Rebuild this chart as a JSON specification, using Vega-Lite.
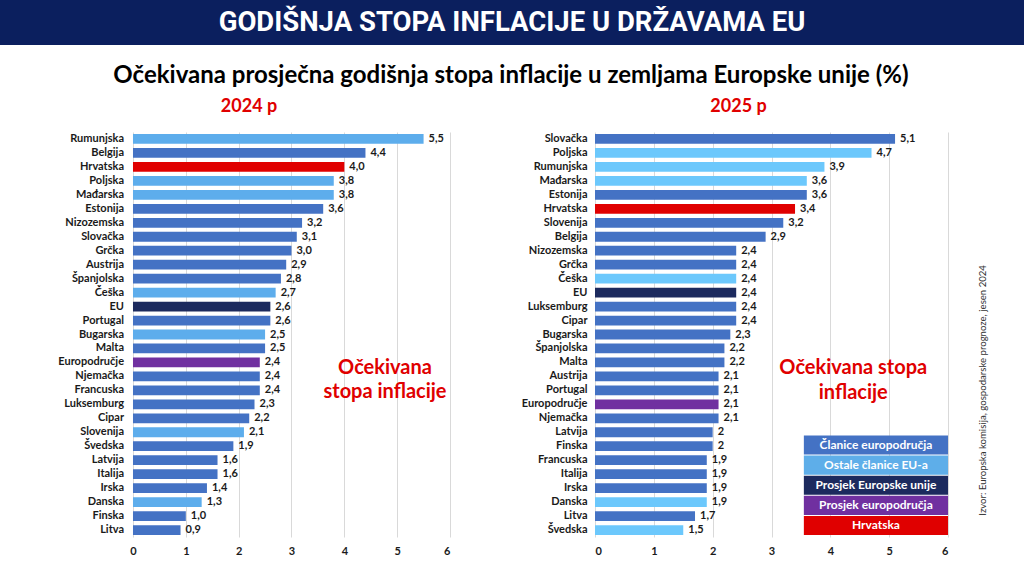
{
  "$schema": "https://vega.github.io/schema/vega-lite/v6.json",
  "padding": 0,
  "background": "white",
  "spacing": 19,
  "config": {"view": {"stroke": null}, "font": "Lato"},
  "datasets": {
    "d2024": [
      {"zemlja": "Rumunjska", "vrijednost": 5.5, "oznaka": "5,5", "grupa": "Ostale članice EU-a"},
      {"zemlja": "Belgija", "vrijednost": 4.4, "oznaka": "4,4", "grupa": "Članice europodručja"},
      {"zemlja": "Hrvatska", "vrijednost": 4.0, "oznaka": "4,0", "grupa": "Hrvatska"},
      {"zemlja": "Poljska", "vrijednost": 3.8, "oznaka": "3,8", "grupa": "Ostale članice EU-a"},
      {"zemlja": "Mađarska", "vrijednost": 3.8, "oznaka": "3,8", "grupa": "Ostale članice EU-a"},
      {"zemlja": "Estonija", "vrijednost": 3.6, "oznaka": "3,6", "grupa": "Članice europodručja"},
      {"zemlja": "Nizozemska", "vrijednost": 3.2, "oznaka": "3,2", "grupa": "Članice europodručja"},
      {"zemlja": "Slovačka", "vrijednost": 3.1, "oznaka": "3,1", "grupa": "Članice europodručja"},
      {"zemlja": "Grčka", "vrijednost": 3.0, "oznaka": "3,0", "grupa": "Članice europodručja"},
      {"zemlja": "Austrija", "vrijednost": 2.9, "oznaka": "2,9", "grupa": "Članice europodručja"},
      {"zemlja": "Španjolska", "vrijednost": 2.8, "oznaka": "2,8", "grupa": "Članice europodručja"},
      {"zemlja": "Češka", "vrijednost": 2.7, "oznaka": "2,7", "grupa": "Ostale članice EU-a"},
      {"zemlja": "EU", "vrijednost": 2.6, "oznaka": "2,6", "grupa": "Prosjek Europske unije"},
      {"zemlja": "Portugal", "vrijednost": 2.6, "oznaka": "2,6", "grupa": "Članice europodručja"},
      {"zemlja": "Bugarska", "vrijednost": 2.5, "oznaka": "2,5", "grupa": "Ostale članice EU-a"},
      {"zemlja": "Malta", "vrijednost": 2.5, "oznaka": "2,5", "grupa": "Članice europodručja"},
      {"zemlja": "Europodručje", "vrijednost": 2.4, "oznaka": "2,4", "grupa": "Prosjek europodručja"},
      {"zemlja": "Njemačka", "vrijednost": 2.4, "oznaka": "2,4", "grupa": "Članice europodručja"},
      {"zemlja": "Francuska", "vrijednost": 2.4, "oznaka": "2,4", "grupa": "Članice europodručja"},
      {"zemlja": "Luksemburg", "vrijednost": 2.3, "oznaka": "2,3", "grupa": "Članice europodručja"},
      {"zemlja": "Cipar", "vrijednost": 2.2, "oznaka": "2,2", "grupa": "Članice europodručja"},
      {"zemlja": "Slovenija", "vrijednost": 2.1, "oznaka": "2,1", "grupa": "Ostale članice EU-a"},
      {"zemlja": "Švedska", "vrijednost": 1.9, "oznaka": "1,9", "grupa": "Članice europodručja"},
      {"zemlja": "Latvija", "vrijednost": 1.6, "oznaka": "1,6", "grupa": "Članice europodručja"},
      {"zemlja": "Italija", "vrijednost": 1.6, "oznaka": "1,6", "grupa": "Članice europodručja"},
      {"zemlja": "Irska", "vrijednost": 1.4, "oznaka": "1,4", "grupa": "Članice europodručja"},
      {"zemlja": "Danska", "vrijednost": 1.3, "oznaka": "1,3", "grupa": "Ostale članice EU-a"},
      {"zemlja": "Finska", "vrijednost": 1.0, "oznaka": "1,0", "grupa": "Članice europodručja"},
      {"zemlja": "Litva", "vrijednost": 0.9, "oznaka": "0,9", "grupa": "Članice europodručja"}
    ],
    "d2025": [
      {"zemlja": "Slovačka", "vrijednost": 5.1, "oznaka": "5,1", "grupa": "Članice europodručja"},
      {"zemlja": "Poljska", "vrijednost": 4.7, "oznaka": "4,7", "grupa": "Ostale članice EU-a"},
      {"zemlja": "Rumunjska", "vrijednost": 3.9, "oznaka": "3,9", "grupa": "Ostale članice EU-a"},
      {"zemlja": "Mađarska", "vrijednost": 3.6, "oznaka": "3,6", "grupa": "Ostale članice EU-a"},
      {"zemlja": "Estonija", "vrijednost": 3.6, "oznaka": "3,6", "grupa": "Članice europodručja"},
      {"zemlja": "Hrvatska", "vrijednost": 3.4, "oznaka": "3,4", "grupa": "Hrvatska"},
      {"zemlja": "Slovenija", "vrijednost": 3.2, "oznaka": "3,2", "grupa": "Članice europodručja"},
      {"zemlja": "Belgija", "vrijednost": 2.9, "oznaka": "2,9", "grupa": "Članice europodručja"},
      {"zemlja": "Nizozemska", "vrijednost": 2.4, "oznaka": "2,4", "grupa": "Članice europodručja"},
      {"zemlja": "Grčka", "vrijednost": 2.4, "oznaka": "2,4", "grupa": "Članice europodručja"},
      {"zemlja": "Češka", "vrijednost": 2.4, "oznaka": "2,4", "grupa": "Ostale članice EU-a"},
      {"zemlja": "EU", "vrijednost": 2.4, "oznaka": "2,4", "grupa": "Prosjek Europske unije"},
      {"zemlja": "Luksemburg", "vrijednost": 2.4, "oznaka": "2,4", "grupa": "Članice europodručja"},
      {"zemlja": "Cipar", "vrijednost": 2.4, "oznaka": "2,4", "grupa": "Članice europodručja"},
      {"zemlja": "Bugarska", "vrijednost": 2.3, "oznaka": "2,3", "grupa": "Članice europodručja"},
      {"zemlja": "Španjolska", "vrijednost": 2.2, "oznaka": "2,2", "grupa": "Članice europodručja"},
      {"zemlja": "Malta", "vrijednost": 2.2, "oznaka": "2,2", "grupa": "Članice europodručja"},
      {"zemlja": "Austrija", "vrijednost": 2.1, "oznaka": "2,1", "grupa": "Članice europodručja"},
      {"zemlja": "Portugal", "vrijednost": 2.1, "oznaka": "2,1", "grupa": "Članice europodručja"},
      {"zemlja": "Europodručje", "vrijednost": 2.1, "oznaka": "2,1", "grupa": "Prosjek europodručja"},
      {"zemlja": "Njemačka", "vrijednost": 2.1, "oznaka": "2,1", "grupa": "Članice europodručja"},
      {"zemlja": "Latvija", "vrijednost": 2.0, "oznaka": "2", "grupa": "Članice europodručja"},
      {"zemlja": "Finska", "vrijednost": 2.0, "oznaka": "2", "grupa": "Članice europodručja"},
      {"zemlja": "Francuska", "vrijednost": 1.9, "oznaka": "1,9", "grupa": "Članice europodručja"},
      {"zemlja": "Italija", "vrijednost": 1.9, "oznaka": "1,9", "grupa": "Članice europodručja"},
      {"zemlja": "Irska", "vrijednost": 1.9, "oznaka": "1,9", "grupa": "Članice europodručja"},
      {"zemlja": "Danska", "vrijednost": 1.9, "oznaka": "1,9", "grupa": "Ostale članice EU-a"},
      {"zemlja": "Litva", "vrijednost": 1.7, "oznaka": "1,7", "grupa": "Članice europodručja"},
      {"zemlja": "Švedska", "vrijednost": 1.5, "oznaka": "1,5", "grupa": "Ostale članice EU-a"}
    ],
    "legenda": [
      {"grupa": "Članice europodručja"},
      {"grupa": "Ostale članice EU-a"},
      {"grupa": "Prosjek Europske unije"},
      {"grupa": "Prosjek europodručja"},
      {"grupa": "Hrvatska"}
    ]
  },
  "vconcat": [
    {
      "width": 1024,
      "height": 45,
      "data": {"values": [{"naslov": "GODIŠNJA STOPA INFLACIJE U DRŽAVAMA EU"}]},
      "layer": [
        {"mark": {"type": "rect", "color": "#0b1f5e"}, "encoding": {}},
        {"mark": {"type": "text", "color": "white", "font": "Roboto", "fontWeight": "bold", "fontSize": 27.5, "baseline": "middle"}, "encoding": {"text": {"field": "naslov"}}}
      ]
    },
    {
      "title": {"text": "Očekivana prosječna godišnja stopa inflacije u zemljama Europske unije (%)", "fontSize": 24, "fontWeight": "bold", "color": "#000000", "anchor": "middle", "offset": 10, "dx": 17, "font": "Lato"},
      "spacing": 45,
      "hconcat": [
        {
          "title": {"text": "2024 p", "color": "#e00000", "fontSize": 18, "fontWeight": "bold", "anchor": "middle", "frame": "group", "dx": 24, "offset": 16},
          "width": 450,
          "height": 405,
          "data": {"name": "d2024"},
          "encoding": {
            "y": {"field": "zemlja", "type": "nominal", "sort": null,
              "scale": {"paddingInner": 0.3, "paddingOuter": 0.15},
              "axis": null}
          },
          "layer": [
            {
              "mark": {"type": "bar"},
              "encoding": {
                "x": {"field": "vrijednost", "type": "quantitative", "scale": {"domain": [-2.517, 6], "nice": false, "zero": false},
                  "axis": {"title": null, "domain": false, "ticks": false, "values": [0, 1, 2, 3, 4, 5, 6], "labelOverlap": false, "labelFontWeight": "bold", "labelFontSize": 11, "labelColor": "#1a1a1a", "labelPadding": 8, "gridColor": "#d9d9d9", "format": "d"}},
                "color": {"field": "grupa", "type": "nominal", "legend": null,
                  "scale": {"domain": ["Članice europodručja", "Ostale članice EU-a", "Prosjek Europske unije", "Prosjek europodručja", "Hrvatska"], "range": ["#4472c4", "#5dadec", "#1c2a5e", "#7030a0", "#e00000"]}}
              }
            },
            {
              "mark": {"type": "text", "align": "left", "dx": 5, "fontWeight": "bold", "fontSize": 11, "color": "#1a1a1a"},
              "encoding": {
                "x": {"field": "vrijednost", "type": "quantitative"},
                "text": {"field": "oznaka"}
              }
            },
            {
              "mark": {"type": "text", "align": "right", "fontWeight": "bold", "fontSize": 11, "color": "#1a1a1a"},
              "encoding": {
                "x": {"datum": -0.17, "type": "quantitative"},
                "text": {"field": "zemlja"}
              }
            },
            {
              "data": {"values": [{}]},
              "mark": {"type": "text", "color": "#e00000", "fontSize": 20, "fontWeight": "bold", "lineHeight": 24, "dy": -8},
              "encoding": {
                "x": {"datum": 4.77, "type": "quantitative"},
                "y": {"datum": "Njemačka", "type": "nominal"},
                "text": {"value": ["Očekivana", "stopa inflacije"]}
              }
            }
          ]
        },
        {
          "title": {"text": "2025 p", "color": "#e00000", "fontSize": 18, "fontWeight": "bold", "anchor": "middle", "frame": "group", "dx": -33, "offset": 16},
          "width": 353,
          "height": 405,
          "resolve": {"scale": {"y": "independent", "color": "independent"}},
          "layer": [
            {
              "data": {"name": "d2025"},
              "encoding": {
                "y": {"field": "zemlja", "type": "nominal", "sort": null,
                  "scale": {"paddingInner": 0.3, "paddingOuter": 0.15},
                  "axis": {"title": null, "domain": false, "ticks": false, "labelFontWeight": "bold", "labelFontSize": 11, "labelColor": "#1a1a1a", "labelPadding": 8, "minExtent": 100}}
              },
              "layer": [
                {
                  "mark": {"type": "bar"},
                  "encoding": {
                    "x": {"field": "vrijednost", "type": "quantitative", "scale": {"domain": [0, 6], "nice": false},
                      "axis": {"title": null, "domain": false, "ticks": false, "values": [0, 1, 2, 3, 4, 5, 6], "labelOverlap": false, "labelFontWeight": "bold", "labelFontSize": 11, "labelColor": "#1a1a1a", "labelPadding": 8, "gridColor": "#d9d9d9", "format": "d"}},
                    "color": {"field": "grupa", "type": "nominal", "legend": null,
                      "scale": {"domain": ["Članice europodručja", "Ostale članice EU-a", "Prosjek Europske unije", "Prosjek europodručja", "Hrvatska"], "range": ["#4472c4", "#6cc8fc", "#1c2a5e", "#7030a0", "#e00000"]}}
                  }
                },
                {
                  "mark": {"type": "text", "align": "left", "dx": 5, "fontWeight": "bold", "fontSize": 11, "color": "#1a1a1a"},
                  "encoding": {
                    "x": {"field": "vrijednost", "type": "quantitative"},
                    "text": {"field": "oznaka"}
                  }
                },
                {
                  "data": {"values": [{}]},
                  "mark": {"type": "text", "color": "#e00000", "fontSize": 20, "fontWeight": "bold", "lineHeight": 25, "dy": -8},
                  "encoding": {
                    "x": {"datum": 4.39, "type": "quantitative"},
                    "y": {"datum": "Austrija", "type": "nominal"},
                    "text": {"value": ["Očekivana stopa", "inflacije"]}
                  }
                },
                {
                  "data": {"values": [{}]},
                  "mark": {"type": "text", "color": "#333333", "fontSize": 9.6, "angle": 270, "align": "center", "baseline": "middle"},
                  "encoding": {
                    "x": {"datum": 6.6, "type": "quantitative"},
                    "y": {"datum": "Portugal", "type": "nominal"},
                    "text": {"value": "Izvor: Europska komisija, gospodarske prognoze, jesen 2024"}
                  }
                }
              ]
            },
            {
              "data": {"name": "legenda"},
              "encoding": {
                "y": {"field": "grupa", "type": "nominal", "sort": null,
                  "scale": {"domain": ["p01", "p02", "p03", "p04", "p05", "p06", "p07", "p08", "p09", "p10", "p11", "p12", "p13", "p14", "p15", "Članice europodručja", "Ostale članice EU-a", "Prosjek Europske unije", "Prosjek europodručja", "Hrvatska"], "paddingInner": 0.05, "paddingOuter": 0.1, "align": 0.5}, "axis": null}
              },
              "layer": [
                {
                  "mark": {"type": "rect"},
                  "encoding": {
                    "x": {"datum": 3.55, "type": "quantitative"},
                    "x2": {"datum": 6},
                    "color": {"field": "grupa", "type": "nominal", "legend": null,
                      "scale": {"domain": ["Članice europodručja", "Ostale članice EU-a", "Prosjek Europske unije", "Prosjek europodručja", "Hrvatska"], "range": ["#4472c4", "#5eaee9", "#1c2a5e", "#7030a0", "#e00000"]}}
                  }
                },
                {
                  "mark": {"type": "text", "color": "white", "fontSize": 12, "fontWeight": "bold", "baseline": "middle"},
                  "encoding": {
                    "x": {"datum": 4.775, "type": "quantitative"},
                    "text": {"field": "grupa"}
                  }
                }
              ]
            }
          ]
        }
      ]
    }
  ]
}
